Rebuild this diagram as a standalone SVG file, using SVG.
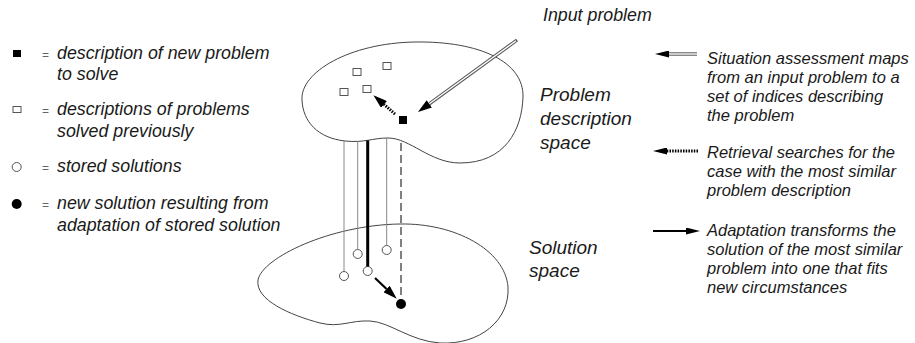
<svg xmlns="http://www.w3.org/2000/svg" width="915" height="343" viewBox="0 0 915 343">
<style>
  .t{font-family:"Liberation Sans",Arial,sans-serif;font-style:italic;fill:#1a1a1a}
  .lg{font-size:17.8px}
  .rt{font-size:16.5px}
  .lb{font-size:19px}
  .eq{font-family:"Liberation Sans",Arial,sans-serif;font-size:12px;fill:#666}
  .blob{fill:none;stroke:#444;stroke-width:1}
  .sq{fill:#fff;stroke:#555;stroke-width:1}
  .ci{fill:#fff;stroke:#555;stroke-width:1}
  .thin{stroke:#888;stroke-width:1;fill:none}
  .thick{stroke:#000;stroke-width:3;fill:none}
  .dash{stroke:#000;stroke-width:1;stroke-dasharray:8,4;fill:none}
  .dbl-o{stroke:#555;stroke-width:3.4;fill:none}
  .dbl-i{stroke:#fff;stroke-width:1.4;fill:none}
  .dot{stroke:#000;stroke-width:3;stroke-dasharray:1.5,1.2;fill:none}
  .solid{stroke:#000;stroke-width:2.2;fill:none}
</style>
<defs>
  <marker id="ah" markerUnits="userSpaceOnUse" viewBox="0 0 14 9" markerWidth="14" markerHeight="9" refX="0" refY="4.5" orient="auto">
    <path d="M0,0 L14,4.5 L0,9 z" fill="#000"/>
  </marker>
  <marker id="ahs" markerUnits="userSpaceOnUse" viewBox="0 0 14 7" markerWidth="14" markerHeight="7" refX="0" refY="3.5" orient="auto">
    <path d="M0,0 L14,3.5 L0,7 z" fill="#000"/>
  </marker>
</defs>
<rect width="915" height="343" fill="#fff"/>

<!-- Legend (left) -->
<g id="legend-new-problem">
  <rect x="13" y="50" width="8" height="7" fill="#000"/>
  <text class="eq" x="42" y="59">=</text>
  <text class="t lg" x="57" y="59">description of new problem</text>
  <text class="t lg" x="57" y="80">to solve</text>
</g>
<g id="legend-old-problems">
  <rect class="sq" x="13" y="106.5" width="8" height="6"/>
  <text class="eq" x="42" y="115">=</text>
  <text class="t lg" x="57" y="115">descriptions of problems</text>
  <text class="t lg" x="57" y="137">solved previously</text>
</g>
<g id="legend-stored-solutions">
  <circle class="ci" cx="16.7" cy="167" r="4.5"/>
  <text class="eq" x="42" y="172">=</text>
  <text class="t lg" x="57" y="172">stored solutions</text>
</g>
<g id="legend-new-solution">
  <circle cx="16.7" cy="204" r="5" fill="#000"/>
  <text class="eq" x="42" y="209">=</text>
  <text class="t lg" x="57" y="209">new solution resulting from</text>
  <text class="t lg" x="57" y="231">adaptation of stored solution</text>
</g>

<!-- Problem description space -->
<g id="problem-space">
  <path class="blob" d="M302,100 C300,72 350,43 415,42 C480,41 524,62 523,97 C522,130 505,163 460,163 C430,163 410,138 388,138 C372,138 365,143 345,141 C318,138 303,122 302,100 Z"/>
  <rect class="sq" x="353" y="68.5" width="8" height="7"/>
  <rect class="sq" x="383" y="62.5" width="8" height="7"/>
  <rect class="sq" x="340" y="88.5" width="8" height="7"/>
  <rect class="sq" x="363" y="85.5" width="8" height="7"/>
  <rect x="399" y="116" width="8" height="8" fill="#000"/>
  <text class="t lb" x="540" y="101">Problem</text>
  <text class="t lb" x="540" y="125">description</text>
  <text class="t lb" x="540" y="149">space</text>
</g>

<!-- Solution space -->
<g id="solution-space">
  <path class="blob" d="M258,280 C262,258 330,225 400,224 C455,223 505,250 508,287 C510,320 480,345 440,343 C410,341 390,322 370,321 C350,320 340,328 320,323 C290,315 255,300 258,280 Z"/>
  <circle class="ci" cx="344" cy="276" r="4.5"/>
  <circle class="ci" cx="357.7" cy="254" r="4.5"/>
  <circle class="ci" cx="367.7" cy="271" r="4.5"/>
  <circle class="ci" cx="386.7" cy="250" r="4.5"/>
  <circle cx="401" cy="304" r="5" fill="#000"/>
  <text class="t lb" x="529" y="254">Solution</text>
  <text class="t lb" x="529" y="277">space</text>
</g>

<g id="input-problem">
  <text class="t lg" x="543" y="21">Input problem</text>
</g>

<!-- Connectors -->
<g id="connectors">
  <line class="thin" x1="344" y1="141" x2="344" y2="271.5"/>
  <line class="thin" x1="357.7" y1="141.5" x2="357.7" y2="249.5"/>
  <line class="thick" x1="367.7" y1="140.5" x2="367.7" y2="266.5"/>
  <line class="thin" x1="386.7" y1="138" x2="386.7" y2="245.5"/>
  <line class="dash" x1="401" y1="143" x2="401" y2="299"/>
  <!-- input arrow -->
  <line class="dbl-o" x1="517" y1="40" x2="429.3" y2="103.8" marker-end="url(#ah)"/>
  <line class="dbl-i" x1="516" y1="40.7" x2="429.3" y2="103.8"/>
  <!-- retrieval arrow -->
  <line class="dot" x1="395" y1="114" x2="384" y2="104.5" marker-end="url(#ah)"/>
  <!-- adaptation arrow -->
  <line class="solid" x1="375" y1="278" x2="386.6" y2="289" marker-end="url(#ah)"/>
</g>

<!-- Legend (right) -->
<g id="key-assessment">
  <line class="dbl-o" x1="697" y1="54" x2="669" y2="54" marker-end="url(#ahs)"/>
  <line class="dbl-i" x1="697" y1="54" x2="669" y2="54"/>
  <text class="t rt" x="707" y="64">Situation assessment maps</text>
  <text class="t rt" x="707" y="83">from an input problem to a</text>
  <text class="t rt" x="707" y="102">set of indices describing</text>
  <text class="t rt" x="707" y="121">the problem</text>
</g>
<g id="key-retrieval">
  <line class="dot" x1="698" y1="151" x2="667" y2="151" marker-end="url(#ahs)"/>
  <text class="t rt" x="707" y="158">Retrieval searches for the</text>
  <text class="t rt" x="707" y="177">case with the most similar</text>
  <text class="t rt" x="707" y="196">problem description</text>
</g>
<g id="key-adaptation">
  <line class="solid" x1="653" y1="231" x2="686" y2="231" marker-end="url(#ahs)"/>
  <text class="t rt" x="707" y="236">Adaptation transforms the</text>
  <text class="t rt" x="707" y="255">solution of the most similar</text>
  <text class="t rt" x="707" y="274">problem into one that fits</text>
  <text class="t rt" x="707" y="293">new circumstances</text>
</g>
</svg>
